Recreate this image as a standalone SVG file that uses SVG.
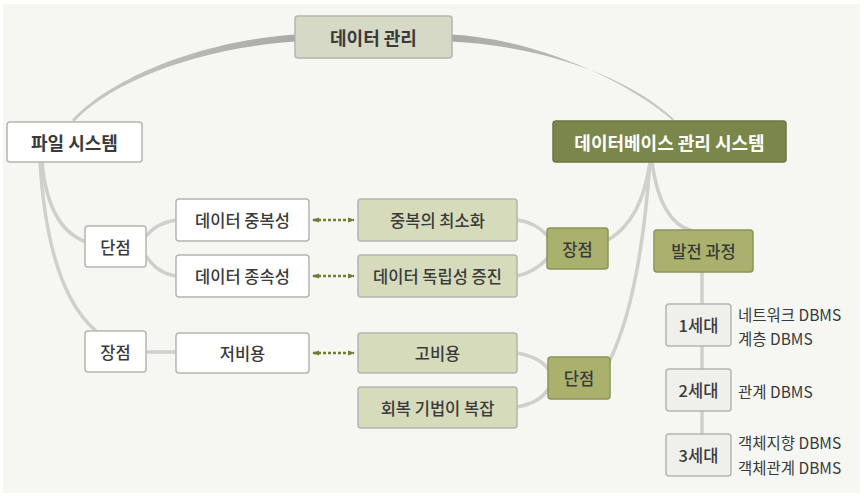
<svg xmlns="http://www.w3.org/2000/svg" width="864" height="498" viewBox="0 0 864 498">
<defs>
<marker id="ah" viewBox="0 0 8 8" refX="7" refY="4" markerWidth="7" markerHeight="7" orient="auto-start-reverse" markerUnits="userSpaceOnUse">
<path d="M0,1 L8,4 L0,7 Z" fill="#6e7d34"/>
</marker>
<linearGradient id="gl" x1="0" y1="0" x2="1" y2="0"><stop offset="0" stop-color="#c9c9c6"/><stop offset="1" stop-color="#a9a9a6"/></linearGradient>
<linearGradient id="gr" x1="0" y1="0" x2="1" y2="0"><stop offset="0" stop-color="#a9a9a6"/><stop offset="1" stop-color="#c9c9c6"/></linearGradient>
</defs>
<style>
.box{stroke:#b5b5b0;stroke-width:1.5}
.w{fill:#ffffff}
.lg{fill:#d6dbbb}
.mo{fill:#a9b16c;stroke:#8d9458}
.dk{fill:#7b874a;stroke:#6a7540}
.top{fill:#d5d9c5}
.gen{fill:#efefec}
text{font-family:"Noto Sans CJK KR","Noto Sans",sans-serif;font-size:16.5px;font-weight:500;fill:#3a3a3a;text-anchor:middle;dominant-baseline:central}
.b{font-weight:bold;font-size:18px}
.wt{fill:#ffffff}
.lt{text-anchor:start;font-size:15.5px;font-weight:400}
.c{fill:none;stroke:#cfcfcc;stroke-width:3.5}
.d{fill:none;stroke:#6e7d34;stroke-width:2.5;stroke-dasharray:3 2}
</style>
<rect x="3" y="4" width="857" height="489" fill="#f6f7f3"/>
<g id="connectors">
<path d="M72 120 C104 84 190 41.5 296 34.5 L296 41.5 C190 48.5 106 86 74.5 121.5 Z" fill="url(#gl)"/>
<path d="M451 34.5 C530 38.5 621 76 672 120 L674.5 119.5 C624 72 531 45 451 41.5 Z" fill="url(#gr)"/>
<path class="c" d="M42 162 Q48 228 86 242"/>
<path class="c" d="M40 162 Q48 290 96 331"/>
<path class="c" d="M146 236 Q158 222 177 220"/>
<path class="c" d="M146 256 Q158 274 177 276"/>
<path class="c" d="M146 352 L177 352"/>
<path class="c" d="M517 220 Q535 222 548 236"/>
<path class="c" d="M517 276 Q535 272 548 258"/>
<path class="c" d="M608 240 Q642 220 650 162"/>
<path class="c" d="M517 353 Q540 357 549 370"/>
<path class="c" d="M517 407 Q540 403 549 388"/>
<path class="c" d="M609 362 Q640 300 650 162"/>
<path class="c" d="M652 162 Q660 222 692 231"/>
<path class="c" d="M702 272 L702 305"/>
<path class="c" d="M702 346 L702 370"/>
<path class="c" d="M702 411 L702 435"/>
<line class="d" x1="313" y1="220" x2="354" y2="220" marker-start="url(#ah)" marker-end="url(#ah)"/>
<line class="d" x1="313" y1="276" x2="354" y2="276" marker-start="url(#ah)" marker-end="url(#ah)"/>
<line class="d" x1="313" y1="353" x2="354" y2="353" marker-start="url(#ah)" marker-end="url(#ah)"/>
</g>
<g id="n-data-mgmt"><rect class="box top" x="295" y="16" width="157" height="42" rx="3"/><text class="b" x="373.5" y="37">데이터 관리</text></g>
<g id="n-file-system"><rect class="box w" x="7" y="122" width="135" height="40" rx="3"/><text class="b" x="74.5" y="142">파일 시스템</text></g>
<g id="n-dbms"><rect class="box dk" x="553" y="121" width="233" height="41" rx="3"/><text class="b wt" x="669.5" y="141.5">데이터베이스 관리 시스템</text></g>
<g id="n-fs-cons"><rect class="box w" x="85" y="226" width="61" height="41" rx="3"/><text x="115.5" y="246.5">단점</text></g>
<g id="n-redundancy"><rect class="box w" x="176" y="199" width="133" height="42" rx="3"/><text x="242.5" y="220">데이터 중복성</text></g>
<g id="n-dependency"><rect class="box w" x="176" y="255" width="133" height="42" rx="3"/><text x="242.5" y="276">데이터 종속성</text></g>
<g id="n-min-redundancy"><rect class="box lg" x="358" y="199" width="159" height="42" rx="3"/><text x="437.5" y="220">중복의 최소화</text></g>
<g id="n-independence"><rect class="box lg" x="358" y="255" width="159" height="42" rx="3"/><text x="437.5" y="276">데이터 독립성 증진</text></g>
<g id="n-db-pros"><rect class="box mo" x="547" y="228" width="61" height="41" rx="3"/><text x="577.5" y="248.5">장점</text></g>
<g id="n-evolution"><rect class="box mo" x="654" y="230" width="99" height="42" rx="3"/><text x="703.5" y="251">발전 과정</text></g>
<g id="n-fs-pros"><rect class="box w" x="85" y="331" width="61" height="41" rx="3"/><text x="115.5" y="351.5">장점</text></g>
<g id="n-low-cost"><rect class="box w" x="176" y="333" width="133" height="40" rx="3"/><text x="242.5" y="353">저비용</text></g>
<g id="n-high-cost"><rect class="box lg" x="358" y="333" width="159" height="40" rx="3"/><text x="437.5" y="353">고비용</text></g>
<g id="n-recovery"><rect class="box lg" x="358" y="387" width="159" height="41" rx="3"/><text x="437.5" y="407.5">회복 기법이 복잡</text></g>
<g id="n-db-cons"><rect class="box mo" x="548" y="357" width="62" height="42" rx="3"/><text x="579" y="378">단점</text></g>
<g id="n-gen1"><rect class="box gen" x="666" y="304" width="65" height="42" rx="3"/><text x="698.5" y="325">1세대</text><text class="lt" x="738" y="314">네트워크 DBMS</text><text class="lt" x="738" y="338">계층 DBMS</text></g>
<g id="n-gen2"><rect class="box gen" x="666" y="369" width="65" height="42" rx="3"/><text x="698.5" y="390">2세대</text><text class="lt" x="738" y="391">관계 DBMS</text></g>
<g id="n-gen3"><rect class="box gen" x="666" y="434" width="65" height="42" rx="3"/><text x="698.5" y="455">3세대</text><text class="lt" x="738" y="442">객체지향 DBMS</text><text class="lt" x="738" y="467">객체관계 DBMS</text></g>
</svg>
